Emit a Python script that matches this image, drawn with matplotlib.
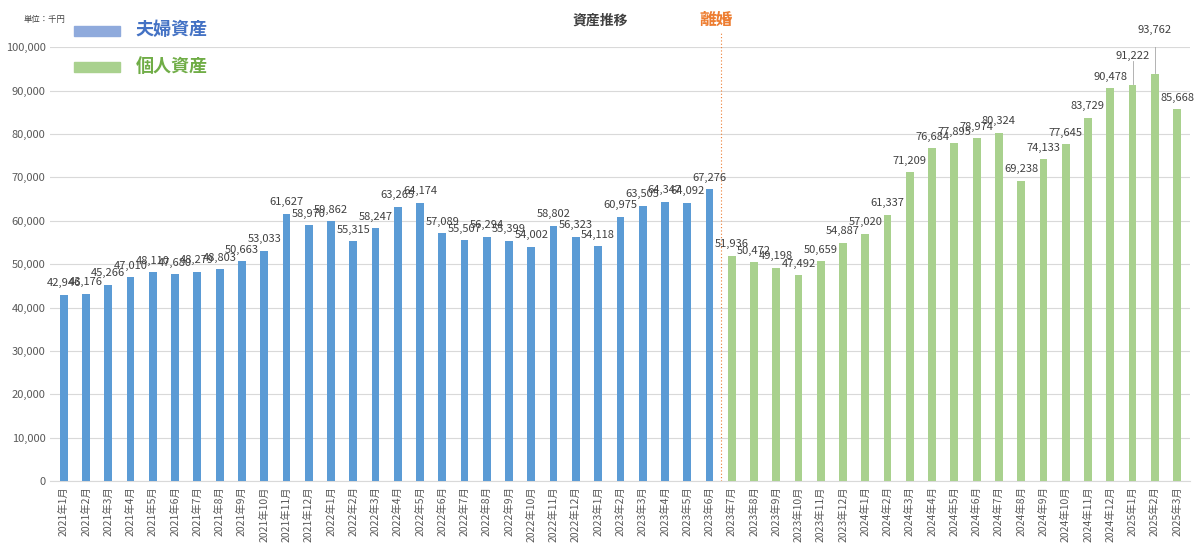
import matplotlib
matplotlib.use("Agg")
import matplotlib.pyplot as plt
from matplotlib.patches import Rectangle

plt.rcParams["font.family"] = "Noto Sans CJK JP"

couple_labels = [f"2021年{m}月" for m in range(1, 13)] + [f"2022年{m}月" for m in range(1, 13)] + [f"2023年{m}月" for m in range(1, 7)]
couple_values = [42946, 43176, 45266, 47010, 48110, 47680, 48279, 48803, 50663, 53033, 61627, 58970,
                 59862, 55315, 58247, 63265, 64174, 57089, 55507, 56294, 55399, 54002, 58802, 56323,
                 54118, 60975, 63505, 64347, 64092, 67276]
single_labels = [f"2023年{m}月" for m in range(7, 13)] + [f"2024年{m}月" for m in range(1, 13)] + [f"2025年{m}月" for m in range(1, 4)]
single_values = [51936, 50472, 49198, 47492, 50659, 54887, 57020, 61337, 71209, 76684, 77895, 78974,
                 80324, 69238, 74133, 77645, 83729, 90478, 91222, 93762, 85668]

blue = "#5b9bd5"
green = "#a9d18e"
fig = plt.figure(figsize=(12, 5.48), dpi=100)
ax = fig.add_axes([0.042, 0.122, 0.950, 0.792])
labels = couple_labels + single_labels
n1 = len(couple_values)
x1 = list(range(n1))
x2 = list(range(n1, n1 + len(single_values)))
ax.bar(x1, couple_values, width=0.35, color=blue, zorder=3)
ax.bar(x2, single_values, width=0.35, color=green, zorder=3)
raised = {n1 + 18: 5500, n1 + 19: 9000}
for x, v in zip(x1 + x2, couple_values + single_values):
    off = raised.get(x, 1500)
    ax.text(x, v + off, f"{v:,}", ha="center", va="bottom", fontsize=8, color="#404040", zorder=4)
    if x in raised:
        ax.plot([x, x], [v + 300, v + off], color="#a6a6a6", lw=0.6, zorder=4)
ax.set_xlim(-0.6, len(labels) - 0.4)
ax.set_ylim(0, 100000)
ax.set_yticks(range(0, 100001, 10000))
ax.set_yticklabels([f"{v:,}" for v in range(0, 100001, 10000)], fontsize=8, color="#595959")
ax.set_xticks(x1 + x2)
ax.set_xticklabels(labels, rotation=90, fontsize=7.5, color="#595959")
ax.tick_params(length=0)
ax.grid(axis="y", color="#d9d9d9", lw=0.8, zorder=0)
for s in ["top", "right", "left"]:
    ax.spines[s].set_visible(False)
ax.spines["bottom"].set_color("#d9d9d9")
ax.axvline(n1 - 0.5, ymin=0, ymax=1.035, color="#ed7d31", ls=(0, (1, 2)), lw=0.8, clip_on=False, zorder=2)
fig.text(0.597, 0.963, "離婚", color="#ed7d31", fontsize=12, fontweight="bold", ha="center", va="center")
fig.text(0.5, 0.963, "資産推移", color="#404040", fontsize=10, fontweight="bold", ha="center", va="center")
fig.text(0.02, 0.965, "単位：千円", fontsize=6, color="#404040", ha="left", va="center")
fig.patches.append(Rectangle((0.062, 0.935), 0.038, 0.018, transform=fig.transFigure, color="#8faadc"))
fig.patches.append(Rectangle((0.062, 0.868), 0.038, 0.018, transform=fig.transFigure, color=green))
fig.text(0.113, 0.946, "夫婦資産", color="#4472c4", fontsize=13, fontweight="bold", va="center")
fig.text(0.113, 0.878, "個人資産", color="#70ad47", fontsize=13, fontweight="bold", va="center")
fig.savefig("out.png", dpi=100, facecolor="white")
